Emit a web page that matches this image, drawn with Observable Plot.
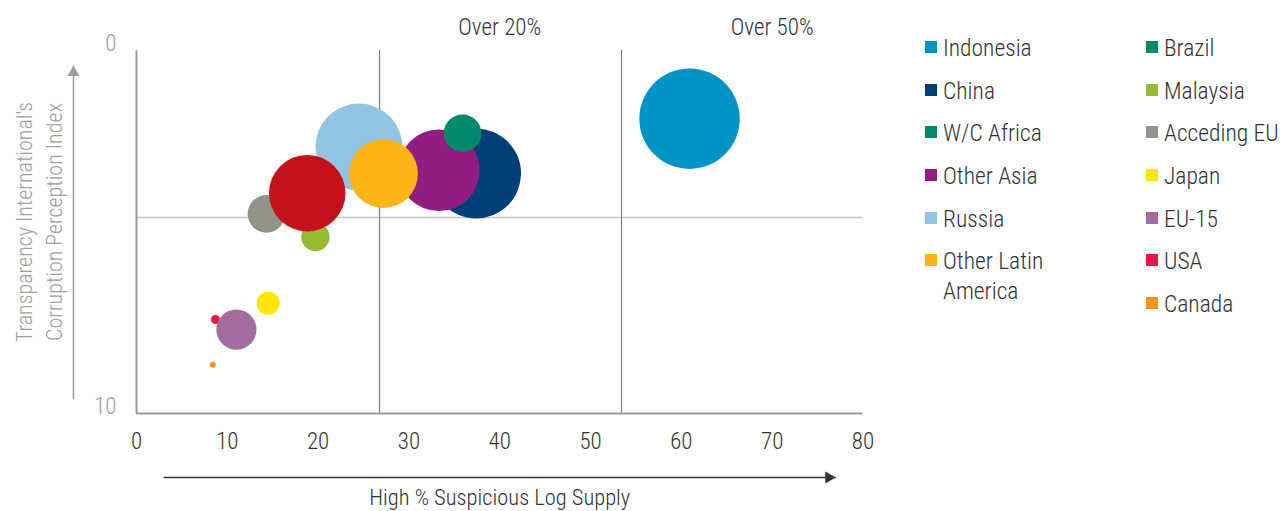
<!DOCTYPE html>
<html>
<head>
<meta charset="utf-8">
<script src="https://cdn.jsdelivr.net/npm/d3@7"></script>
<script src="https://cdn.jsdelivr.net/npm/@observablehq/plot@0.6"></script>
<style>
  html, body { margin: 0; padding: 0; background: #fff; }
  #wrap { position: relative; width: 1287px; height: 511px; overflow: hidden; }
  #legend { position: absolute; left: 0; top: 0; font-family: 'Roboto Condensed', 'Roboto', sans-serif; font-weight: 300; font-size: 23.5px; color: #333; }
  .col { position: absolute; top: 33px; white-space: nowrap; }
  .item { position: relative; line-height: 30px; margin-bottom: 12.7px; padding-left: 18px; }
  .sw { position: absolute; left: 0; top: 8px; width: 12px; height: 12px; }
  svg text { font-weight: 300; }
</style>
</head>
<body>
<div id="wrap"><div id="legend"></div></div>
<script>
// ---- data ----
const regions     = ["Indonesia", "China", "W/C Africa", "Other Asia", "Russia", "Other Latin America",
                     "Brazil", "Malaysia", "Acceding EU", "Japan", "EU-15", "USA", "Canada"];
const suspicious  = [60.9, 37.4, 35.9, 33.3, 24.5, 27.2, 18.8, 19.7, 14.3, 14.5, 11.0, 8.7, 8.4];   // High % suspicious log supply
const cpi         = [1.88, 3.39, 2.28, 3.30, 2.66, 3.39, 3.93, 5.14, 4.50, 6.96, 7.69, 7.41, 8.66]; // Corruption Perception Index
const volume      = [100, 80, 14, 66, 75, 47, 58, 8, 14, 5.2, 16, 0.8, 0.36];                        // bubble size
const legendColor = ["#0093c6", "#003f78", "#00896a", "#921c80", "#93c4e1", "#fbb517",
                     "#00896a", "#95ba33", "#93938a", "#ffe500", "#a36b9e", "#e8184b", "#f7921e"];
const bubbleColor = ["#0093c6", "#003f78", "#00896a", "#921c80", "#93c4e1", "#fbb517",
                     "#c4111b", "#95ba33", "#93938a", "#ffe500", "#a36b9e", "#e8184b", "#f7921e"];
const drawOrder   = ["Indonesia", "China", "Other Asia", "W/C Africa", "Russia", "Other Latin America",
                     "Acceding EU", "Malaysia", "Brazil", "Japan", "USA", "EU-15", "Canada"];
const legendCol1  = ["Indonesia", "China", "W/C Africa", "Other Asia", "Russia", "Other Latin America"];
const legendCol2  = ["Brazil", "Malaysia", "Acceding EU", "Japan", "EU-15", "USA", "Canada"];
const xTicks      = [0, 10, 20, 30, 40, 50, 60, 70, 80];
const yTicks      = [0, 10];
const thresholdX  = [26.76, 53.41];
const thresholdY  = [4.6];
const zoneLabels  = ["Over 20%", "Over 50%"];
const zoneLabelX  = [40, 70];
const xTitle      = "High % Suspicious Log Supply";
const yTitle      = "Transparency International's\nCorruption Perception Index";
const xArrow      = {x1: 3, x2: 77, y: 10};
const yArrow      = {x: 0, y1: 9.61, y2: 0.41};

const table = drawOrder.map(name => {
  const i = regions.indexOf(name);
  return {name, x: suspicious[i], y: cpi[i], v: volume[i], color: bubbleColor[i]};
});

const axisGrey = "#9d9d95";
const dark = "#333";

const plot = Plot.plot({
  width: 1287,
  height: 511,
  marginLeft: 136,
  marginRight: 424.5,
  marginTop: 50,
  marginBottom: 98,
  x: {domain: [0, 80]},
  y: {domain: [0, 10], reverse: true},
  r: {domain: [0, 100], range: [0, 50.2]},
  style: {fontFamily: "'Roboto Condensed', 'Roboto', sans-serif", fontSize: "23px", background: "white", color: dark, overflow: "visible"},
  marks: [
    Plot.ruleY(thresholdY, {stroke: "#c3c3bc", strokeWidth: 1.5}),
    Plot.ruleX(thresholdX, {stroke: "#7f7f7f", strokeWidth: 1.2}),
    Plot.ruleX([0], {stroke: axisGrey, strokeWidth: 2}),
    Plot.ruleY([10], {stroke: axisGrey, strokeWidth: 2}),
    Plot.dot(table, {x: "x", y: "y", r: "v", fill: d => d.color, stroke: null, sort: null}),
    Plot.axisX({ticks: xTicks, tickSize: 0, tickPadding: 19, fontSize: 23, fill: dark, label: null}),
    Plot.axisY({ticks: yTicks, tickSize: 0, tickPadding: 20, dy: -7, fontSize: 23, fill: "#a0a09a", label: null}),
    Plot.text(zoneLabels, {x: (d, i) => zoneLabelX[i], frameAnchor: "top", dy: -23, lineAnchor: "middle", fill: dark, fontSize: 23}),
    Plot.text([xTitle], {frameAnchor: "bottom", dy: 84, lineAnchor: "middle", fill: dark, fontSize: 22.5}),
    Plot.text([yTitle], {frameAnchor: "left", textAnchor: "middle", rotate: -90, dx: -99, dy: -10, lineAnchor: "middle", lineHeight: 1.38, fill: "#a0a09a", fontSize: 22}),
    Plot.link([xArrow], {x1: "x1", x2: "x2", y1: "y", y2: "y", dy: 64, stroke: dark, strokeWidth: 1.5}),
    Plot.dot([xArrow], {x: "x2", y: "y", dy: 64, dx: -7, symbol: "triangle", rotate: 90, r: 4.5, fill: dark, stroke: null}),
    Plot.link([yArrow], {x1: "x", x2: "x", y1: "y1", y2: "y2", dx: -63, stroke: axisGrey, strokeWidth: 1.5}),
    Plot.dot([yArrow], {x: "x", y: "y2", dx: -63, dy: 7, symbol: "triangle", r: 4.5, fill: axisGrey, stroke: null})
  ]
});

const wrap = document.getElementById("wrap");
wrap.insertBefore(plot, wrap.firstChild);

// legend
const legend = document.getElementById("legend");
function buildCol(names, left) {
  const col = document.createElement("div");
  col.className = "col";
  col.style.left = left + "px";
  names.forEach(name => {
    const i = regions.indexOf(name);
    const item = document.createElement("div");
    item.className = "item";
    const sw = document.createElement("span");
    sw.className = "sw";
    sw.style.background = legendColor[i];
    item.appendChild(sw);
    if (name === "Other Latin America") {
      item.appendChild(document.createTextNode("Other Latin"));
      item.appendChild(document.createElement("br"));
      item.appendChild(document.createTextNode("America"));
    } else {
      item.appendChild(document.createTextNode(name));
    }
    col.appendChild(item);
  });
  legend.appendChild(col);
}
buildCol(legendCol1, 925);
buildCol(legendCol2, 1146);
</script>
</body>
</html>
